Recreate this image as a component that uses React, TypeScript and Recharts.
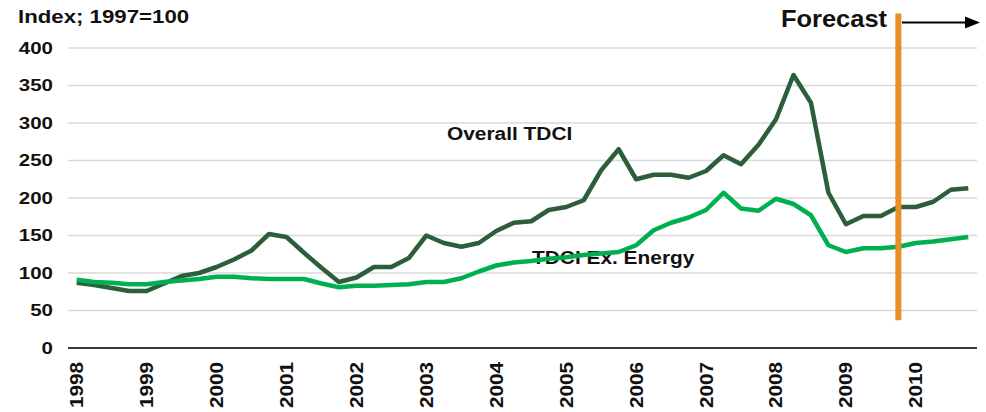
import React from "react";
import {
  LineChart,
  Line,
  XAxis,
  YAxis,
  CartesianGrid,
  ReferenceLine,
  Customized,
} from "recharts";

const FONT = '"Liberation Sans", Arial, sans-serif';

const COLORS = {
  overall: "#2C5E3B",
  exEnergy: "#00B050",
  forecast: "#E98D25",
  grid: "#D9D9D9",
  text: "#111",
};

const years = ["1998", "1999", "2000", "2001", "2002", "2003", "2004", "2005", "2006", "2007", "2008", "2009", "2010"];
const quarters = ["Q1", "Q2", "Q3", "Q4"];
const yTicks = [0, 50, 100, 150, 200, 250, 300, 350, 400];

// Index; 1997=100, quarterly 1998Q1 - 2010Q4
const overallTdci = [
  87, 84, 80, 76, 76, 86, 96, 100, 108, 118, 130, 152, 148, 127, 107, 88,
  94, 108, 108, 120, 150, 140, 135, 140, 156, 167, 169, 184, 188, 197, 237, 265,
  225, 231, 231, 227, 236, 257, 245, 271, 305, 364, 327, 207, 165, 176, 176, 188,
  188, 195, 211, 213,
];
const exEnergyTdci = [
  91, 88, 87, 85, 85, 88, 90, 92, 95, 95, 93, 92, 92, 92, 86, 81,
  83, 83, 84, 85, 88, 88, 93, 102, 110, 114, 116, 119, 121, 124, 126, 128,
  137, 157, 167, 174, 184, 207, 186, 183, 199, 192, 177, 137, 128, 133, 133, 135,
  140, 142, 145, 148,
];

const forecastStart = "2009Q4";

const periods = years.flatMap((y) => quarters.map((q) => `${y}${q}`));
const data = periods.map((p, i) => ({
  period: p,
  overall: overallTdci[i],
  exEnergy: exEnergyTdci[i],
}));

// bold text, stretched a little sideways like the original export
function WideText({
  x,
  y,
  size,
  sx = 1,
  rotate = 0,
  anchor = "start",
  dy,
  children,
}: {
  x: number;
  y: number;
  size: number;
  sx?: number;
  rotate?: number;
  anchor?: "start" | "middle" | "end";
  dy?: string;
  children: React.ReactNode;
}) {
  return (
    <text
      transform={`translate(${x} ${y}) rotate(${rotate}) scale(${sx} 1)`}
      textAnchor={anchor}
      dy={dy}
      fill={COLORS.text}
      fontFamily={FONT}
      fontWeight="bold"
      fontSize={size}
    >
      {children}
    </text>
  );
}

function YearTick({ x, y, payload }: { x?: number; y?: number; payload?: { value: string } }) {
  return (
    <WideText x={x ?? 0} y={y ?? 0} size={18} sx={1.15} rotate={-90} anchor="end" dy="0.36em">
      {String(payload?.value ?? "").slice(0, 4)}
    </WideText>
  );
}

function ValueTick({ x, y, payload }: { x?: number; y?: number; payload?: { value: number } }) {
  return (
    <WideText x={x ?? 0} y={y ?? 0} size={16} sx={1.28} anchor="end" dy="0.36em">
      {payload?.value}
    </WideText>
  );
}

function Annotations() {
  return (
    <g>
      <WideText x={18} y={23} size={17.5} sx={1.27}>
        Index; 1997=100
      </WideText>
      <WideText x={447} y={140} size={18} sx={1.16}>
        Overall TDCI
      </WideText>
      <WideText x={532} y={264} size={18} sx={1.16}>
        TDCI Ex. Energy
      </WideText>
      <WideText x={781} y={27} size={24} sx={1.06}>
        Forecast
      </WideText>
      <line x1={902} y1={22.5} x2={966} y2={22.5} stroke="#000" strokeWidth={2} />
      <polygon points="965,16.5 980,22.5 965,28.5" fill="#000" />
    </g>
  );
}

export default function App() {
  return (
    <div style={{ position: "absolute", left: 0, top: 0, background: "#fff" }}>
      <LineChart
        width={986}
        height={412}
        data={data}
        margin={{ top: 48, right: 9, left: 8, bottom: 0 }}
      >
        <CartesianGrid vertical={false} stroke={COLORS.grid} strokeWidth={1.5} />
        <XAxis
          dataKey="period"
          interval={3}
          tick={<YearTick />}
          tickLine={false}
          tickMargin={8}
          axisLine={{ stroke: "#000", strokeWidth: 1.5 }}
          padding={{ left: 8.7, right: 8.7 }}
          height={64}
        />
        <YAxis
          domain={[0, 400]}
          ticks={yTicks}
          width={60}
          tickLine={false}
          axisLine={false}
          tickMargin={9}
          tick={<ValueTick />}
        />
        <Line
          dataKey="overall"
          stroke={COLORS.overall}
          strokeWidth={4.5}
          dot={false}
          strokeLinejoin="round"
          isAnimationActive={false}
        />
        <Line
          dataKey="exEnergy"
          stroke={COLORS.exEnergy}
          strokeWidth={4.5}
          dot={false}
          strokeLinejoin="round"
          isAnimationActive={false}
        />
        <ReferenceLine
          segment={[
            { x: forecastStart, y: 37 },
            { x: forecastStart, y: 446 },
          ]}
          stroke={COLORS.forecast}
          strokeWidth={6}
          ifOverflow="visible"
        />
        <Customized component={Annotations} />
      </LineChart>
    </div>
  );
}
